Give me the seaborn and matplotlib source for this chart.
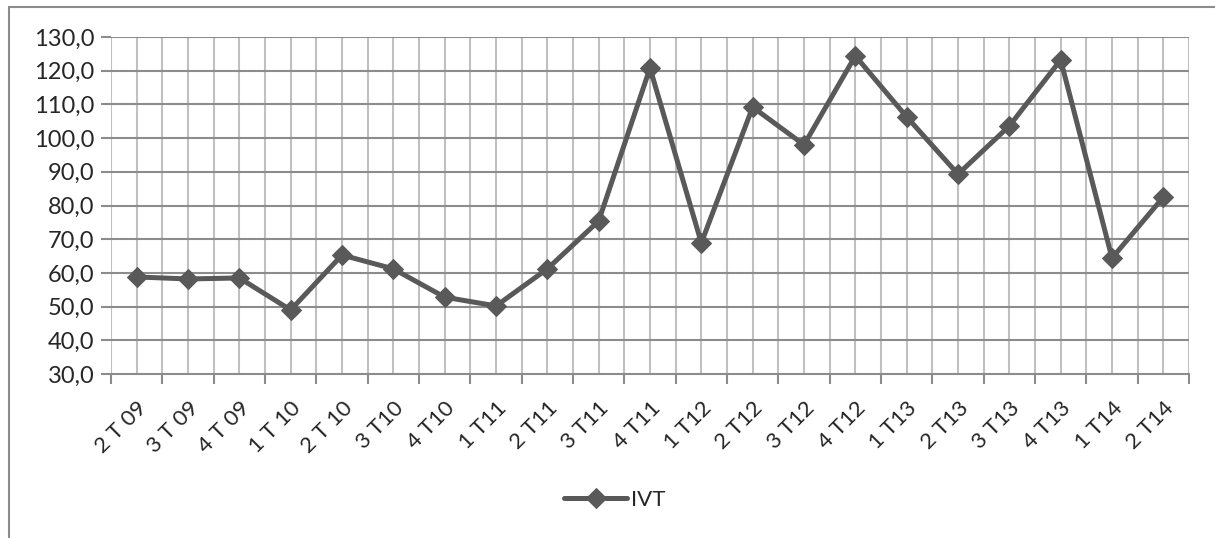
import pandas as pd
import matplotlib.pyplot as plt
import seaborn as sns
import numpy as np
from matplotlib.patches import Rectangle

# quarter labels and IVT values
quarters = ["2 T 09", "3 T 09", "4 T 09", "1 T 10", "2 T 10", "3 T10", "4 T10",
            "1 T11", "2 T11", "3 T11", "4 T11", "1 T12", "2 T12", "3 T12",
            "4 T12", "1 T13", "2 T13", "3 T13", "4 T13", "1 T14", "2 T14"]
ivt = [58.8, 58.2, 58.5, 49.0, 65.3, 61.2, 52.8, 50.2, 61.2, 75.4, 120.8,
       68.9, 109.2, 98.0, 124.4, 106.3, 89.3, 103.6, 123.2, 64.4, 82.5]
y_ticks = [30, 40, 50, 60, 70, 80, 90, 100, 110, 120, 130]

df = pd.DataFrame({"pos": np.arange(len(quarters)), "IVT": ivt})

sns.set_style("white")
plt.rcParams["font.family"] = ["Lato", "DejaVu Sans"]

fig = plt.figure(figsize=(12.15, 5.38), dpi=100)
ax = fig.add_axes([111 / 1215, 1 - 374 / 538, (1189 - 111) / 1215, (374 - 37) / 538])

# outer chart border (clipped at right and bottom like the source)
fig.patches.append(Rectangle((9 / 1215, -0.05), 1.2, 1.05 - 7 / 538,
                             transform=fig.transFigure, fill=False,
                             edgecolor="#8c8c8c", linewidth=1.5))

n = len(quarters)
# vertical grid every half category
for x in np.arange(-0.5, n, 0.5):
    ax.axvline(x, color="#c0c0c0", linewidth=1.5, zorder=0)
for y in y_ticks[1:]:
    ax.axhline(y, color="#8c8c8c", linewidth=1.5, zorder=0)

sns.lineplot(data=df, x="pos", y="IVT", ax=ax, color="#595959", linewidth=3.6,
             marker="D", markersize=10.5, markeredgecolor="#595959", label="IVT",
             zorder=3)

ax.set_xlim(-0.5, n - 0.5)
ax.set_ylim(30, 130)
ax.set_yticks(y_ticks)
ax.set_yticklabels([f"{v:.1f}".replace(".", ",") for v in y_ticks], fontsize=17)

ax.set_xticks(np.arange(-0.5, n, 1.0))
ax.set_xticklabels([])
ax.set_xticks(np.arange(n), minor=True)
ax.set_xticklabels(quarters, minor=True, rotation=45, ha="right",
                   rotation_mode="anchor", fontsize=16)
ax.tick_params(axis="x", which="major", length=7, width=1.5, color="#8c8c8c",
               direction="out", bottom=True)
ax.tick_params(axis="x", which="minor", length=0, pad=17)
ax.tick_params(axis="y", length=7, width=1.5, color="#8c8c8c", direction="out",
               left=True, pad=5)
ax.set_xlabel("")
ax.set_ylabel("")

for side in ["top", "right"]:
    ax.spines[side].set_visible(False)
ax.spines["left"].set_visible(False)
ax.spines["bottom"].set_color("#8c8c8c")
ax.spines["bottom"].set_linewidth(1.5)

ax.legend(loc="center", bbox_to_anchor=(615 / 1215, 1 - 500 / 538),
          bbox_transform=fig.transFigure, frameon=False, fontsize=16,
          handlelength=2.8, handletextpad=0.2)

fig.savefig("out.png", dpi=100)
